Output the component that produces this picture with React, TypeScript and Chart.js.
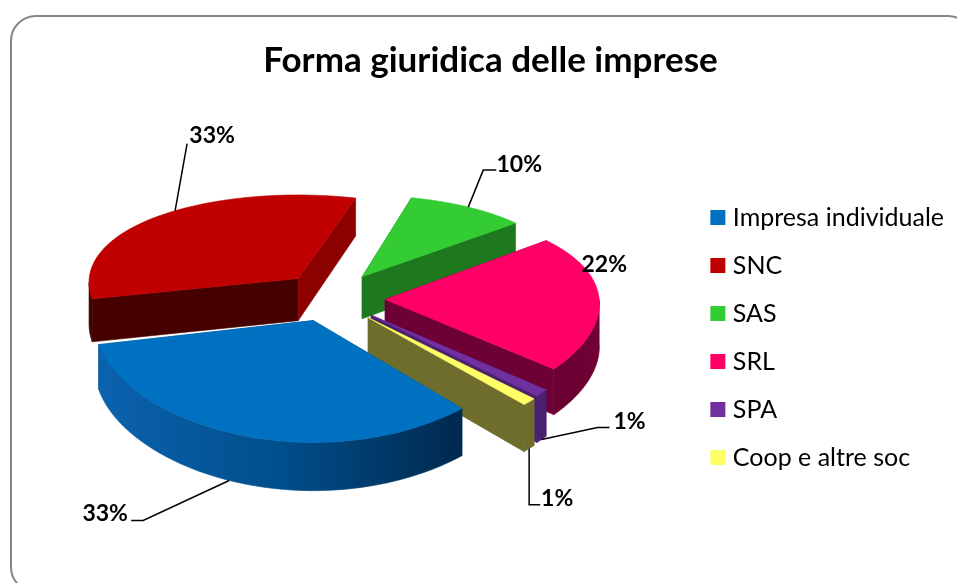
import React, { useEffect, useRef } from "react";
import { Chart, registerables } from "chart.js";

Chart.register(...registerables);

const categories = ["Impresa individuale", "SNC", "SAS", "SRL", "SPA", "Coop e altre soc"];
const shares = [33, 33, 10, 22, 1, 1];
const topColors = ["#0070C0", "#C00000", "#33CC33", "#FF0066", "#7030A0", "#FFFF66"];
const startFaceColors = ["#00447a", "#450000", "#1e781e", "#6d0035", "#4b2070", "#6f6d2c"];
const endFaceColors = ["#00447a", "#8c0000", "#1e781e", "#6d0035", "#4b2070", "#6f6d2c"];
const rimColors = [
  ["#0b62ad", "#004e8c", "#00294d"],
  ["#450000", "#450000", "#450000"],
  ["#1e781e", "#1e781e", "#1e781e"],
  ["#6b0032", "#6b0032", "#720036"],
  ["#4b2070", "#4b2070", "#4b2070"],
  ["#6f6d2c", "#6f6d2c", "#6f6d2c"],
];
// how far each slice is pulled out of the pie, across and towards the viewer
const explodeU = [-23, -38, 26, 49, 35, 32];
const explodeV = [44, -46, -50, 0, 33, 38];
const radiusScale = [1.01, 0.985, 0.96, 1, 1.03, 1.03];
const angleShiftDeg = [1.5, 2, 0, 0, 0, 0];
// where each leader leaves the slice: fraction along the arc, and 1 when it starts at the wall's foot
const leaderFrac = [0.533, 0.545, 0.5, 0.5, 0.5, 0.5];
const leaderFoot = [1, 0, 0, 0, 1, 1];
// leader bends and label position relative to the slice's anchor
const leaderBends: number[][][] = [
  [[-86, 40], [-98, 40]],
  [[12, -67]],
  [[15, -37], [28, -37]],
  [],
  [[56, -12], [68, -12]],
  [[0, 56], [11, 56]],
];
const labelOffsets = [[-124, 33], [37, -75], [51, -43], [5, -35], [88, -18], [28, 50]];

const PIE_RADIUS = 214;
const SHIFT_X = -23.5;
const SHIFT_Y = -39;
const PERSPECTIVE = 0.123;
const TILT = 100;
const DEPTH = 43;
const LEGEND_SHIFT_X = -3;
const LEGEND_SHIFT_Y = 50;
const FONT = "Lato, Carlito, sans-serif";

type P = [number, number];

function project(arc: any, i: number, rawAngle: number, frac: number, foot = 0): P {
  const R = arc.outerRadius;
  const angle = rawAngle + (angleShiftDeg[i] * Math.PI) / 180;
  const r = R * frac * radiusScale[i];
  const vn = (explodeV[i] + Math.sin(angle) * r) / R;
  const k = 1 + 0.04 * vn;
  return [
    arc.x + SHIFT_X + explodeU[i] + Math.cos(angle) * r * k,
    arc.y + SHIFT_Y + (TILT * vn) / (1 - PERSPECTIVE * vn) + foot * DEPTH * (1 + 0.1 * vn),
  ];
}

function poly(ctx: CanvasRenderingContext2D, pts: P[], fill: string | CanvasGradient) {
  ctx.beginPath();
  pts.forEach((p, i) => (i ? ctx.lineTo(p[0], p[1]) : ctx.moveTo(p[0], p[1])));
  ctx.closePath();
  ctx.fillStyle = fill;
  ctx.strokeStyle = fill;
  ctx.lineWidth = 0.6;
  ctx.fill();
  ctx.stroke();
}

function rimAngles(arc: any): number[] {
  const n = 48;
  return Array.from({ length: n + 1 }, (_, i) => arc.startAngle + ((arc.endAngle - arc.startAngle) * i) / n);
}

const pie3d = {
  id: "pie3d",
  afterLayout(chart: any) {
    chart.legend.left += LEGEND_SHIFT_X;
    chart.legend.right += LEGEND_SHIFT_X;
    chart.legend.top += LEGEND_SHIFT_Y;
    chart.legend.bottom += LEGEND_SHIFT_Y;
  },
  beforeDatasetDraw(chart: any, args: any) {
    const ctx = chart.ctx as CanvasRenderingContext2D;
    const arcs: any[] = args.meta.data;
    const order = arcs
      .map((a, i) => i)
      .sort(
        (a, b) =>
          Math.sin((arcs[a].startAngle + arcs[a].endAngle) / 2) -
          Math.sin((arcs[b].startAngle + arcs[b].endAngle) / 2)
      );
    ctx.save();
    order.forEach((i) => {
      const arc = arcs[i];
      const angles = rimAngles(arc);
      const top = angles.map((a) => project(arc, i, a, 1));
      const foot = angles.map((a) => project(arc, i, a, 1, 1));
      const minX = Math.min(...top.map((p) => p[0]));
      const maxX = Math.max(...top.map((p) => p[0]));
      const g = ctx.createLinearGradient(minX, 0, maxX, 0);
      rimColors[i].forEach((c, s) => g.addColorStop(s / 2, c));
      const apex = project(arc, i, 0, 0);
      const apexF = project(arc, i, 0, 0, 1);
      poly(ctx, [apex, top[0], foot[0], apexF], startFaceColors[i]);
      poly(ctx, [apex, top[top.length - 1], foot[foot.length - 1], apexF], endFaceColors[i]);
      // only the part of the rim that faces the viewer has a visible wall
      const front = angles.filter((a) => Math.sin(a + (angleShiftDeg[i] * Math.PI) / 180) >= 0);
      if (front.length > 1) {
        poly(
          ctx,
          [
            ...front.map((a) => project(arc, i, a, 1)),
            ...front.map((a) => project(arc, i, a, 1, 1)).reverse(),
          ],
          g
        );
      }
    });
    order.forEach((i) => {
      const arc = arcs[i];
      const top = rimAngles(arc).map((a) => project(arc, i, a, 1));
      poly(ctx, [project(arc, i, 0, 0), ...top], arc.options.backgroundColor);
    });
    ctx.restore();
    return false;
  },
  afterDatasetsDraw(chart: any) {
    const ctx = chart.ctx as CanvasRenderingContext2D;
    const arcs: any[] = chart.getDatasetMeta(0).data;
    ctx.save();
    ctx.strokeStyle = "#000";
    ctx.lineWidth = 1.5;
    ctx.fillStyle = "#000";
    ctx.font = `bold 23px ${FONT}`;
    ctx.textAlign = "center";
    ctx.textBaseline = "middle";
    arcs.forEach((arc, i) => {
      const a = arc.startAngle + (arc.endAngle - arc.startAngle) * leaderFrac[i];
      const [ax, ay] = project(arc, i, a, 1, leaderFoot[i]);
      if (leaderBends[i].length) {
        ctx.beginPath();
        ctx.moveTo(ax, ay);
        leaderBends[i].forEach(([dx, dy]) => ctx.lineTo(ax + dx, ay + dy));
        ctx.stroke();
      }
      const [lx, ly] = labelOffsets[i];
      ctx.fillText(`${shares[i]}%`, ax + lx, ay + ly);
    });
    ctx.restore();
  },
};

export default function App() {
  const ref = useRef<HTMLCanvasElement>(null);
  useEffect(() => {
    const chart = new Chart(ref.current!, {
      type: "pie",
      data: {
        labels: categories,
        datasets: [
          {
            data: shares,
            backgroundColor: topColors,
            radius: PIE_RADIUS,
            rotation: 137,
            borderWidth: 0,
          } as any,
        ],
      },
      options: {
        responsive: false,
        animation: false,
        layout: { padding: { left: 24, right: 0, top: 0, bottom: 8 } },
        plugins: {
          tooltip: { enabled: false },
          title: {
            display: true,
            text: "Forma giuridica delle imprese",
            color: "#000",
            font: { family: FONT, size: 35, weight: "bold" },
            padding: { top: 40, bottom: 20 },
          },
          legend: {
            position: "right",
            labels: {
              boxWidth: 5,
              boxHeight: 5,
              padding: 23,
              color: "#111",
              font: { family: FONT, size: 25 },
              generateLabels: () =>
                categories.map((text, index) => ({
                  text,
                  index,
                  fillStyle: topColors[index],
                  strokeStyle: topColors[index],
                  lineWidth: 10,
                  hidden: false,
                })),
            },
          },
        },
      } as any,
      plugins: [pie3d],
    });
    return () => chart.destroy();
  }, []);
  return (
    <div style={{ position: "fixed", left: 0, top: 0, width: 957, height: 583, overflow: "hidden", background: "#fff" }}>
      <div
        style={{
          position: "absolute",
          left: 10,
          top: 15,
          width: 964,
          height: 578,
          border: "2px solid #868686",
          borderRadius: 26,
          boxSizing: "border-box",
        }}
      />
      <canvas ref={ref} width={957} height={583} style={{ position: "absolute", left: 0, top: 0, display: "block" }} />
    </div>
  );
}
